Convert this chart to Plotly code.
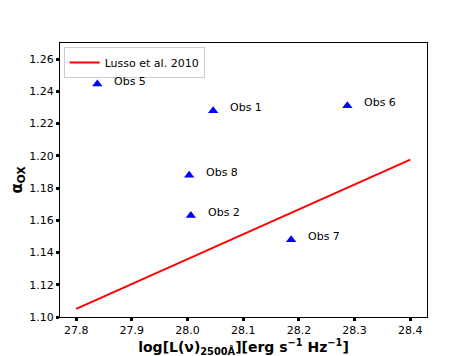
import plotly.graph_objects as go

# observations
obs_names = ["Obs 5", "Obs 1", "Obs 6", "Obs 8", "Obs 2", "Obs 7"]
obs_logL = [27.838, 28.046, 28.287, 28.003, 28.006, 28.186]
obs_alpha = [1.2445, 1.228, 1.231, 1.188, 1.163, 1.148]

# Lusso et al. 2010 relation
lusso_logL = [27.8, 28.4]
lusso_alpha = [1.105, 1.1976]

FONT = "DejaVu Sans"

fig = go.Figure()
fig.add_trace(go.Scatter(x=lusso_logL, y=lusso_alpha, mode="lines", name="Lusso et al. 2010",
                         line=dict(color="red", width=2)))
fig.add_trace(go.Scatter(x=obs_logL, y=obs_alpha, mode="markers", showlegend=False,
                         marker=dict(symbol="triangle-up", color="blue", size=9)))
for name, x, y in zip(obs_names, obs_logL, obs_alpha):
    fig.add_annotation(x=x, y=y, text=name, showarrow=False, xanchor="left", xshift=15, yshift=3,
                       font=dict(size=11, color="black", family=FONT))

axis_common = dict(showline=True, linecolor="black", linewidth=1, mirror=True, showgrid=False,
                   zeroline=False, ticks="outside", ticklen=3, tickwidth=3, tickcolor="black",
                   automargin=False,
                   tickfont=dict(size=11, color="black", family=FONT))
fig.update_xaxes(range=[27.771, 28.43], tickvals=[27.8, 27.9, 28.0, 28.1, 28.2, 28.3, 28.4],
                 ticktext=["27.8", "27.9", "28.0", "28.1", "28.2", "28.3", "28.4"],
                 title=dict(text="<b>log[L(ν)<sub>2500Å</sub>][erg s<sup>−1</sup> Hz<sup>−1</sup>]</b>",
                            font=dict(size=14, color="black", family=FONT), standoff=2),
                 **axis_common)
fig.update_yaxes(range=[1.10, 1.27], tickvals=[1.10, 1.12, 1.14, 1.16, 1.18, 1.20, 1.22, 1.24, 1.26],
                 ticktext=["1.10", "1.12", "1.14", "1.16", "1.18", "1.20", "1.22", "1.24", "1.26"],
                 title=dict(text="<b>α<sub>OX</sub></b>", font=dict(size=15, color="black", family=FONT),
                            standoff=8),
                 **axis_common)
# page body adds ~8px offset, margins compensate for it
fig.update_layout(width=474, height=356, template="plotly_white",
                  margin=dict(l=52, r=55, t=35, b=47),
                  plot_bgcolor="white", paper_bgcolor="white",
                  font=dict(family=FONT, color="black"),
                  legend=dict(x=0.01, y=0.985, xanchor="left", yanchor="top", bgcolor="white",
                              bordercolor="#cccccc", borderwidth=1,
                              font=dict(size=11, family=FONT, color="black")))
fig.write_html("out.html")
